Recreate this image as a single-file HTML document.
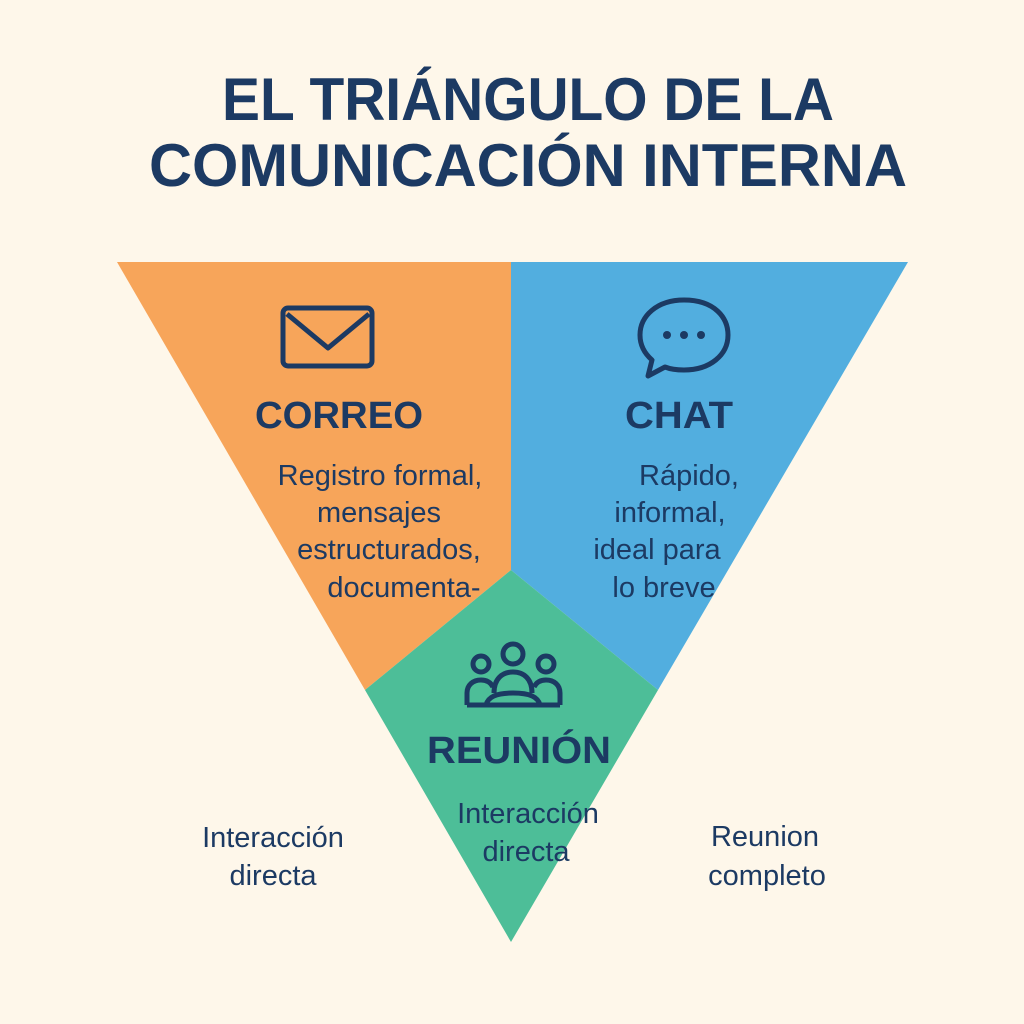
<!DOCTYPE html>
<html><head><meta charset="utf-8"><style>
html,body{margin:0;padding:0;background:#FEF7EA;}
svg{display:block}
text{font-family:"Liberation Sans",sans-serif;fill:#1C3A63}
</style></head><body>
<svg width="1024" height="1024" viewBox="0 0 1024 1024">
<rect width="1024" height="1024" fill="#FEF7EA"/>
<text x="528" y="120" font-size="60" font-weight="bold" text-anchor="middle" textLength="612" lengthAdjust="spacingAndGlyphs">EL TRIÁNGULO DE LA</text>
<text x="528" y="186" font-size="60" font-weight="bold" text-anchor="middle" textLength="758" lengthAdjust="spacingAndGlyphs">COMUNICACIÓN INTERNA</text>
<polygon points="117,262 511,262 511,570 365,690" fill="#F7A55A"/>
<polygon points="511,262 908,262 658,690 511,570" fill="#52AEDF"/>
<polygon points="511,570 658,690 511,942 365,690" fill="#4DBE98"/>
<rect x="283" y="308" width="89" height="58" rx="5" fill="none" stroke="#1C3A63" stroke-width="5"/>
<polyline points="287,314 328,348 369,314" fill="none" stroke="#1C3A63" stroke-width="5" stroke-linejoin="round"/>
<path d="M684,300 C715,300 728,318 728,335 C728,355 710,370 684,370 C677,370 670,369 665,367 L648,376 L652,360 C644,353 640,345 640,335 C640,316 657,300 684,300 Z" fill="none" stroke="#1C3A63" stroke-width="5" stroke-linejoin="round"/>
<circle cx="667" cy="335" r="4" fill="#1C3A63"/><circle cx="684" cy="335" r="4" fill="#1C3A63"/><circle cx="701" cy="335" r="4" fill="#1C3A63"/>
<g fill="none" stroke="#1C3A63" stroke-width="5">
<circle cx="513" cy="654" r="10"/><circle cx="481" cy="664" r="8"/><circle cx="546" cy="664" r="8"/>
<path d="M494,693 C494,679 502,672 513,672 C524,672 532,679 532,693"/>
<path d="M467,705 V693 C467,685 473,680 481,680 C487,680 491,683 493,687"/>
<path d="M560,705 V693 C560,685 554,680 546,680 C540,680 536,683 534,687"/>
<path d="M486,705 C488,697 496,693 513,693 C530,693 538,697 540,705"/>
<line x1="467" y1="705" x2="560" y2="705"/>
</g>
<text x="339" y="428" font-size="38" font-weight="bold" text-anchor="middle" textLength="168" lengthAdjust="spacingAndGlyphs">CORREO</text>
<text x="679" y="428" font-size="38" font-weight="bold" text-anchor="middle" textLength="108" lengthAdjust="spacingAndGlyphs">CHAT</text>
<text x="519" y="763" font-size="38" font-weight="bold" text-anchor="middle" textLength="184" lengthAdjust="spacingAndGlyphs">REUNIÓN</text>
<g font-size="29" text-anchor="middle">
<text x="380" y="485">Registro formal,</text>
<text x="379" y="522">mensajes</text>
<text x="389" y="559">estructurados,</text>
<text x="404" y="597">documenta-</text>
<text x="689" y="485">Rápido,</text>
<text x="670" y="522">informal,</text>
<text x="657" y="559">ideal para</text>
<text x="664" y="597">lo breve</text>
<text x="528" y="823">Interacción</text>
<text x="526" y="861">directa</text>
<text x="273" y="847">Interacción</text>
<text x="273" y="885">directa</text>
<text x="765" y="846">Reunion</text>
<text x="767" y="885">completo</text>
</g>
</svg>
</body></html>
